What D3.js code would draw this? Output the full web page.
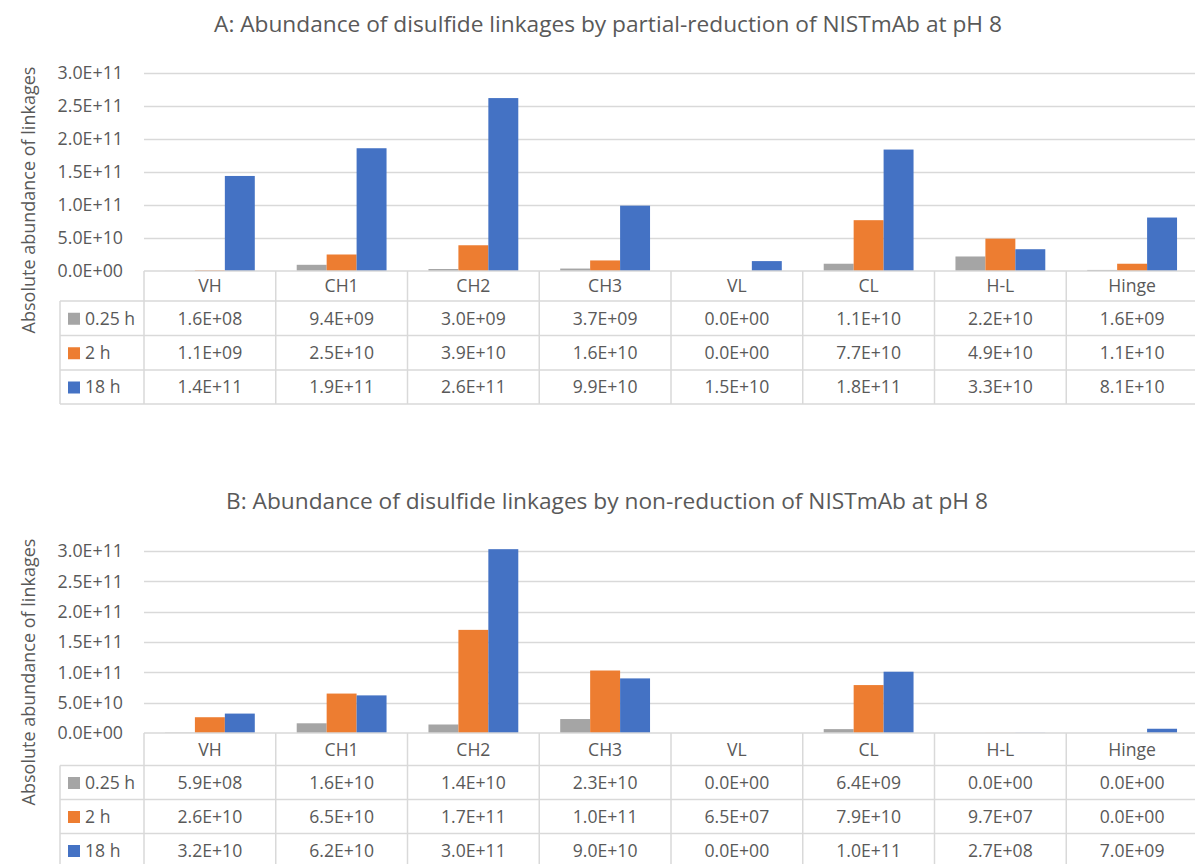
<!DOCTYPE html>
<html>
<head>
<meta charset="utf-8">
<script src="https://cdn.jsdelivr.net/npm/d3@7"></script>
<style>
html,body{margin:0;padding:0;background:#fff;}
svg{display:block;font-family:"Open Sans","Noto Sans",sans-serif;}
</style>
</head>
<body>
<svg id="chart" width="1195" height="864"></svg>
<script>
// ---------- data ----------
const categories = ["VH","CH1","CH2","CH3","VL","CL","H-L","Hinge"];
const seriesNames = ["0.25 h","2 h","18 h"];
const seriesColors = ["#A5A5A5","#ED7D31","#4472C4"];
const yTicks = [0, 5e10, 1e11, 1.5e11, 2e11, 2.5e11, 3e11];

const titleA = "A: Abundance of disulfide linkages by partial-reduction of NISTmAb at pH 8";
const a025 = [1.6e8, 9.4e9, 3.0e9, 3.7e9, 0, 1.1e10, 2.2e10, 1.6e9];
const a2   = [1.1e9, 2.5e10, 3.9e10, 1.6e10, 0, 7.7e10, 4.9e10, 1.1e10];
const a18  = [1.44e11, 1.86e11, 2.62e11, 9.9e10, 1.5e10, 1.84e11, 3.3e10, 8.1e10];

const titleB = "B: Abundance of disulfide linkages by non-reduction of NISTmAb at pH 8";
const b025 = [5.9e8, 1.6e10, 1.4e10, 2.3e10, 0, 6.4e9, 0, 0];
const b2   = [2.6e10, 6.5e10, 1.7e11, 1.03e11, 6.5e7, 7.9e10, 9.7e7, 0];
const b18  = [3.2e10, 6.2e10, 3.03e11, 9.0e10, 0, 1.01e11, 2.7e8, 7.0e9];

const yLabel = "Absolute abundance of linkages";

// ---------- helpers ----------
function fmtE(v){
  if (v === 0) return "0.0E+00";
  let s = v.toExponential(1);
  let [m, e] = s.split("e");
  const sign = e[0];
  let digits = e.slice(1);
  if (digits.length < 2) digits = "0" + digits;
  return m + "E" + sign + digits;
}

const svg = d3.select("#chart");
const W = 1195;
const textCol = "#595959";
const gridCol = "#D9D9D9";
const fs = "17.6px";

function panel(cfg){
  const g = svg.append("g");
  const data = cfg.series;
  const x0 = d3.scaleBand().domain(categories).range([cfg.left, cfg.right]);
  const band = x0.bandwidth();
  const barW = band / (3 + 1.4);
  const x1 = d3.scaleBand().domain(seriesNames)
      .range([(band - 3*barW)/2, (band + 3*barW)/2]);
  const y = d3.scaleLinear().domain([0, 3e11]).range([cfg.base, cfg.top]);

  g.append("text").attr("x", cfg.titleX).attr("y", cfg.titleY)
    .attr("text-anchor","middle").attr("fill", textCol)
    .style("font-size","22.7px").text(cfg.title);

  g.selectAll("line.grid").data(yTicks.slice(1)).enter().append("line")
    .attr("x1", cfg.left).attr("x2", W)
    .attr("y1", d => Math.round(y(d))+0.5).attr("y2", d => Math.round(y(d))+0.5)
    .attr("stroke", gridCol).attr("stroke-width", 1.3);

  const yAxis = d3.axisLeft(y).tickValues(yTicks).tickFormat(fmtE).tickSize(0).tickPadding(0);
  const ax = g.append("g").attr("transform", `translate(${cfg.tickRight},0)`).call(yAxis);
  ax.select(".domain").remove();
  ax.selectAll("text").attr("fill", textCol).style("font-size","17.8px")
    .style("font-family",'"Open Sans","Noto Sans",sans-serif');

  g.append("text")
    .attr("transform", `translate(${cfg.yLabelX},${cfg.yLabelY}) rotate(-90)`)
    .attr("text-anchor","middle").attr("fill", textCol)
    .style("font-size","18px").text(yLabel);

  const groups = g.selectAll("g.cat").data(categories).enter().append("g")
    .attr("transform", d => `translate(${x0(d)},0)`);
  groups.selectAll("rect").data((c, ci) => seriesNames.map((s, si) => ({s, si, v: data[si][ci]})))
    .enter().append("rect")
    .attr("x", d => x1(d.s)).attr("width", x1.bandwidth())
    .attr("y", d => y(d.v)).attr("height", d => cfg.base - y(d.v))
    .attr("fill", d => seriesColors[d.si]);

  const rows = cfg.rows;
  const tg = g.append("g");
  const line = (x1_, y1_, x2_, y2_) => tg.append("line")
    .attr("x1", x1_).attr("y1", y1_).attr("x2", x2_).attr("y2", y2_)
    .attr("stroke", gridCol).attr("stroke-width", 1.5);
  line(cfg.left, rows[0], W+5, rows[0]);
  for (let i = 1; i < rows.length; i++) line(cfg.labelLeft, rows[i], W+5, rows[i]);
  line(cfg.labelLeft, rows[1], cfg.labelLeft, rows[rows.length-1]);
  categories.forEach(c => line(x0(c), rows[0], x0(c), rows[rows.length-1]));
  line(cfg.right, rows[0], cfg.right, rows[rows.length-1]);

  tg.selectAll("text.hdr").data(categories).enter().append("text")
    .attr("x", d => x0(d) + band/2).attr("y", (rows[0]+rows[1])/2)
    .attr("dy","0.36em").attr("text-anchor","middle").attr("fill", textCol)
    .style("font-size", fs).text(d => d);

  seriesNames.forEach((s, si) => {
    const ym = (rows[si+1] + rows[si+2]) / 2;
    tg.append("rect").attr("x", cfg.labelLeft + 8).attr("y", ym - 5.5)
      .attr("width", 12).attr("height", 12).attr("fill", seriesColors[si]);
    tg.append("text").attr("x", cfg.labelLeft + 25).attr("y", ym).attr("dy","0.36em")
      .attr("fill", textCol).style("font-size", fs).text(s);
    tg.selectAll(null).data(categories).enter().append("text")
      .attr("x", d => x0(d) + band/2).attr("y", ym).attr("dy","0.36em")
      .attr("text-anchor","middle").attr("fill", textCol)
      .style("font-size", fs).text((d, ci) => fmtE(data[si][ci]));
  });
}

panel({
  title: titleA, titleX: 608, titleY: 32,
  series: [a025, a2, a18],
  left: 144, right: 1198, top: 73, base: 271,
  tickRight: 123, yLabelX: 35, yLabelY: 200,
  labelLeft: 60, rows: [271, 301, 335.5, 370, 404]
});

panel({
  title: titleB, titleX: 607, titleY: 509,
  series: [b025, b2, b18],
  left: 144, right: 1198, top: 551, base: 733,
  tickRight: 123, yLabelX: 35, yLabelY: 672,
  labelLeft: 60, rows: [733, 765.5, 799.5, 833.5, 867.5]
});
</script>
</body>
</html>
